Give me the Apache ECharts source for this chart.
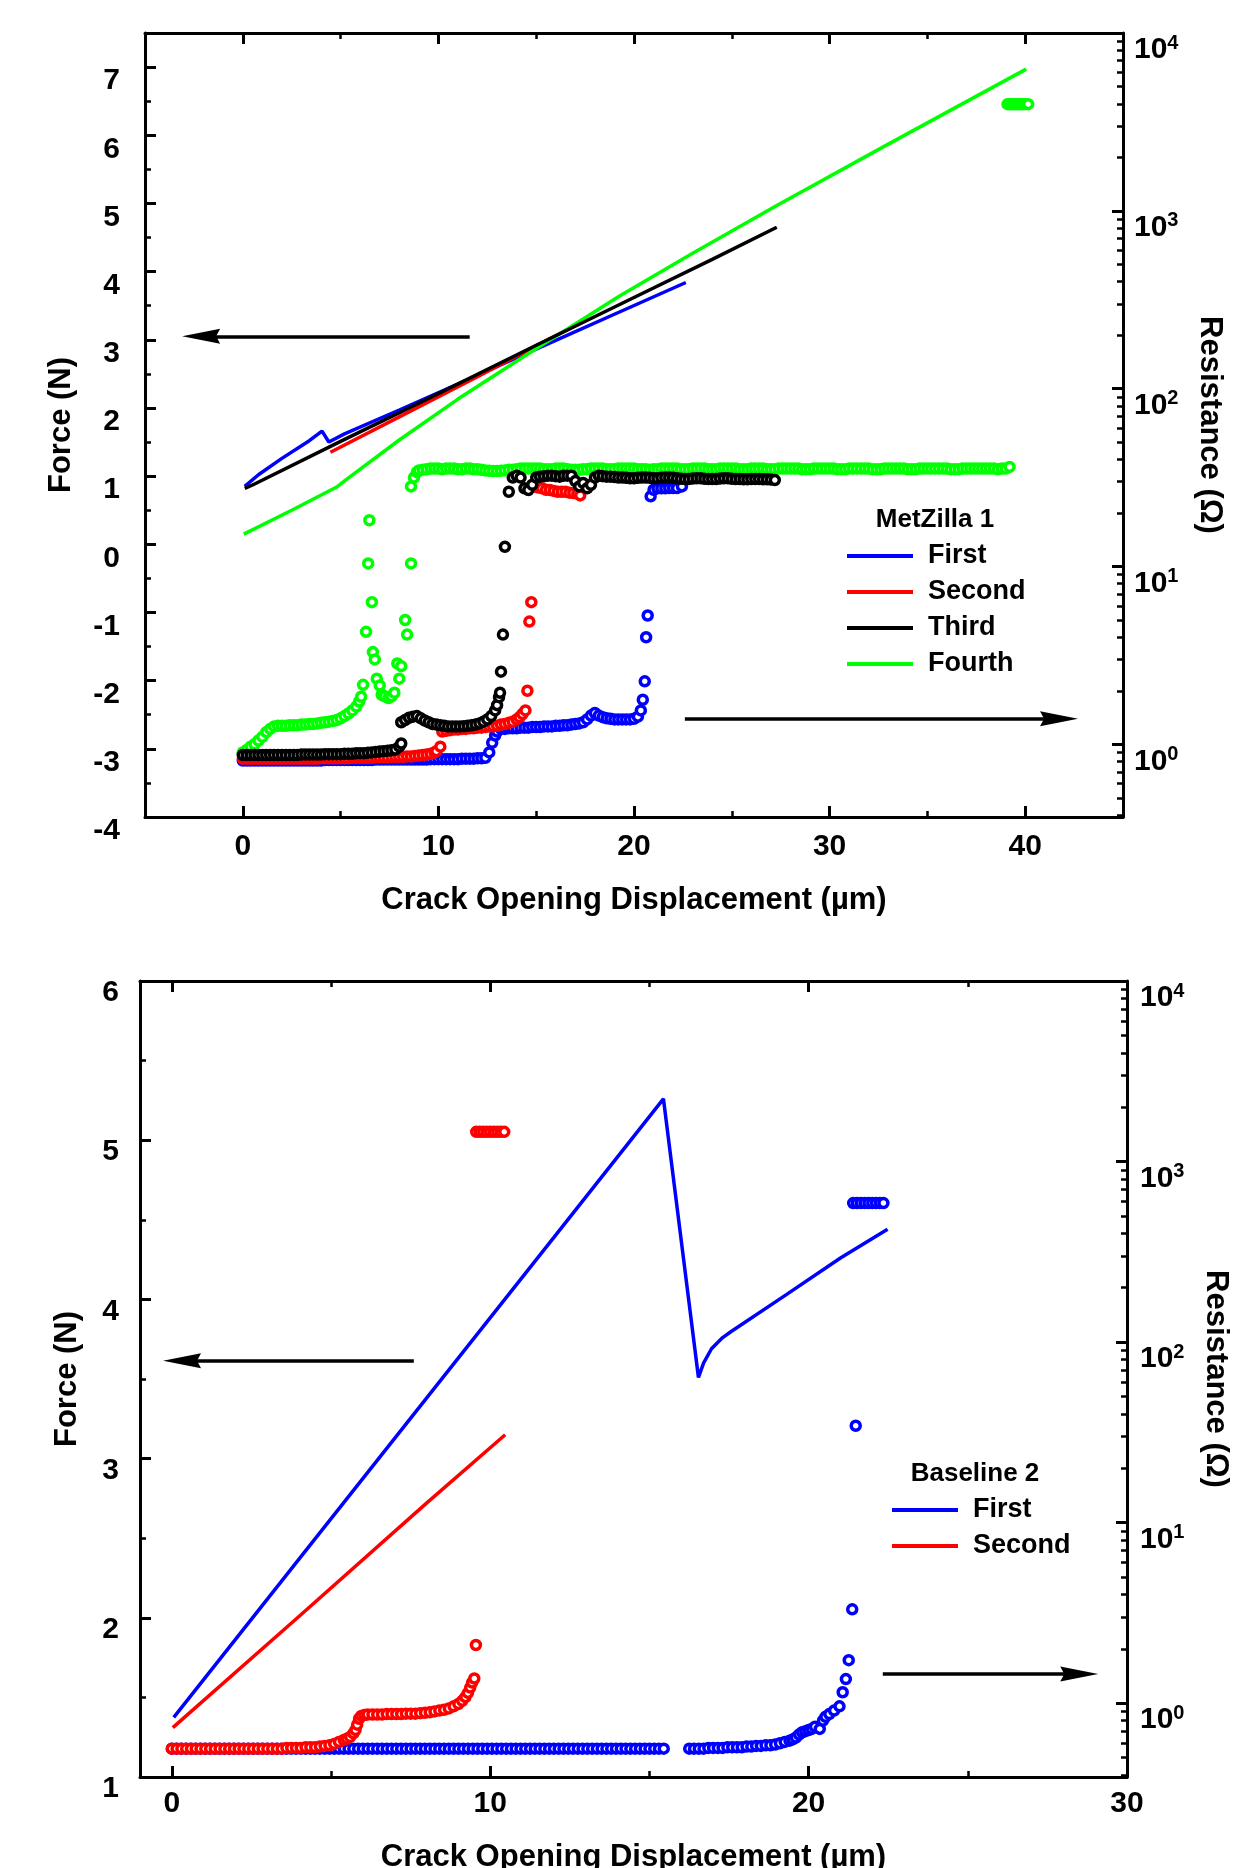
<!DOCTYPE html>
<html>
<head>
<meta charset="utf-8">
<title>Force and resistance vs crack opening displacement</title>
<script src="https://cdn.jsdelivr.net/npm/echarts@6/dist/echarts.min.js"></script>
<style>
  html, body { margin: 0; padding: 0; background: #fff; }
  #chart { width: 1242px; height: 1868px; }
</style>
</head>
<body>
<div id="chart"></div>
<script>
// ---- tick values ----
const codTicksTop = [0, 10, 20, 30, 40];
const codMinorTop = [5, 15, 25, 35];
const codTicksBot = [0, 10, 20, 30];
const codMinorBot = [5, 15, 25];
const forceTicksTop = [-4, -3, -2, -1, 0, 1, 2, 3, 4, 5, 6, 7];
const forceMinorTop = [-3.5, -2.5, -1.5, -0.5, 0.5, 1.5, 2.5, 3.5, 4.5, 5.5, 6.5];
const forceTicksBot = [1, 2, 3, 4, 5, 6];
const forceMinorBot = [1.5, 2.5, 3.5, 4.5, 5.5];
const resTicks = [1, 10, 100, 1000, 10000];
const resMinor = [0.4, 0.5, 0.6, 0.7, 0.8, 0.9, 2, 3, 4, 5, 6, 7, 8, 9,
  20, 30, 40, 50, 60, 70, 80, 90, 200, 300, 400, 500, 600, 700, 800, 900,
  2000, 3000, 4000, 5000, 6000, 7000, 8000, 9000];

// ---- MetZilla 1 : force (N) vs COD (um) ----
const firstForceTop = [[0.1, 0.85], [0.8, 1.02], [2.0, 1.26], [3.4, 1.52], [4.05, 1.66], [4.4, 1.5],
  [5.2, 1.62], [8.0, 1.97], [12.0, 2.48], [16.0, 2.99], [19.2, 3.4], [22.65, 3.84]];
const secondForceTop = [[4.48, 1.35], [8.0, 1.87], [12.0, 2.46], [15.0, 2.91], [17.35, 3.26]];
const thirdForceTop = [[0.1, 0.82], [0.5, 0.87], [5.0, 1.51], [10.0, 2.21], [15.0, 2.92], [20.0, 3.62],
  [24.0, 4.18], [27.3, 4.65]];
const fourthForceTop = [[0.05, 0.15], [2.5, 0.5], [4.8, 0.84], [5.2, 0.93], [8.0, 1.53], [11.0, 2.13],
  [14.45, 2.77], [19.24, 3.64], [23.0, 4.27], [27.3, 4.97], [33.0, 5.87], [40.05, 6.97]];

// ---- MetZilla 1 : resistance (ohm) vs COD (um) ----
const firstResTop = [
  [0, 0.81], [0.2, 0.81], [0.4, 0.81], [0.6, 0.81], [0.8, 0.81], [1.0, 0.81], [1.2, 0.81], [1.4, 0.81],
  [1.6, 0.81], [1.8, 0.81], [2.0, 0.81], [2.2, 0.81], [2.4, 0.81], [2.6, 0.81], [2.8, 0.81], [3.0, 0.81],
  [3.2, 0.81], [3.4, 0.81], [3.6, 0.81], [3.8, 0.81], [4.0, 0.81], [4.2, 0.815], [4.4, 0.815], [4.6, 0.815],
  [4.8, 0.815], [5.0, 0.815], [5.2, 0.815], [5.4, 0.815], [5.6, 0.815], [5.8, 0.815], [6.0, 0.815], [6.2, 0.815],
  [6.4, 0.815], [6.6, 0.815], [6.8, 0.82], [7.0, 0.82], [7.2, 0.82], [7.4, 0.82], [7.6, 0.82], [7.8, 0.82],
  [8.0, 0.82], [8.2, 0.82], [8.4, 0.82], [8.6, 0.82], [8.8, 0.82], [9.0, 0.82], [9.2, 0.82], [9.4, 0.82],
  [9.6, 0.825], [9.8, 0.825], [10.0, 0.825], [10.2, 0.825], [10.4, 0.825], [10.6, 0.825], [10.8, 0.825], [11.0, 0.825],
  [11.2, 0.83], [11.4, 0.83], [11.6, 0.83], [11.8, 0.83], [12.0, 0.835], [12.2, 0.835], [12.4, 0.84],
  [12.6, 0.9], [12.75, 1.02], [12.9, 1.12], [13.0, 1.18],
  [13.2, 1.22], [13.4, 1.22], [13.6, 1.23], [13.8, 1.23], [14.0, 1.23], [14.2, 1.24], [14.4, 1.24], [14.6, 1.24],
  [14.8, 1.25], [15.0, 1.25], [15.2, 1.25], [15.4, 1.26], [15.6, 1.26], [15.8, 1.26], [16.0, 1.27], [16.2, 1.27],
  [16.4, 1.28], [16.6, 1.28], [16.8, 1.29], [17.0, 1.3], [17.2, 1.31], [17.4, 1.33], [17.6, 1.38], [17.8, 1.45],
  [18.0, 1.5], [18.2, 1.45], [18.4, 1.42], [18.6, 1.4], [18.8, 1.39], [19.0, 1.38], [19.2, 1.38], [19.4, 1.38],
  [19.6, 1.38], [19.8, 1.38], [20.0, 1.39], [20.2, 1.43], [20.35, 1.55], [20.45, 1.78], [20.55, 2.26], [20.62, 4.0],
  [20.7, 5.3],
  [20.85, 24.8], [21.0, 27.0], [21.2, 27.5], [21.4, 27.5], [21.6, 27.5], [21.8, 27.6], [22.0, 27.6], [22.2, 27.6],
  [22.45, 28.2]
];
const secondResTop = [
  [0, 0.83], [0.2, 0.83], [0.4, 0.83], [0.6, 0.83], [0.8, 0.83], [1.0, 0.83], [1.2, 0.83], [1.4, 0.83],
  [1.6, 0.83], [1.8, 0.83], [2.0, 0.83], [2.2, 0.83], [2.4, 0.83], [2.6, 0.83], [2.8, 0.83], [3.0, 0.83],
  [3.2, 0.83], [3.4, 0.83], [3.6, 0.83], [3.8, 0.83], [4.0, 0.835], [4.2, 0.835], [4.4, 0.835], [4.6, 0.835],
  [4.8, 0.835], [5.0, 0.835], [5.2, 0.835], [5.4, 0.835], [5.6, 0.84], [5.8, 0.84], [6.0, 0.84], [6.2, 0.84],
  [6.4, 0.84], [6.6, 0.84], [6.8, 0.845], [7.0, 0.845], [7.2, 0.845], [7.4, 0.845], [7.6, 0.85], [7.8, 0.85],
  [8.0, 0.85], [8.2, 0.85], [8.4, 0.855], [8.6, 0.855], [8.8, 0.86], [9.0, 0.865], [9.2, 0.87], [9.4, 0.875],
  [9.6, 0.885], [9.8, 0.9], [9.9, 0.915], [10.1, 0.97],
  [10.2, 1.18], [10.4, 1.19], [10.6, 1.2], [10.8, 1.21], [11.0, 1.21], [11.2, 1.22], [11.4, 1.22], [11.6, 1.23],
  [11.8, 1.23], [12.0, 1.24], [12.2, 1.24], [12.4, 1.25], [12.6, 1.26], [12.8, 1.26], [13.0, 1.27], [13.2, 1.29],
  [13.4, 1.3], [13.6, 1.32], [13.8, 1.34], [14.0, 1.38], [14.15, 1.42], [14.3, 1.48], [14.45, 1.55],
  [14.55, 2.0], [14.65, 4.9], [14.75, 6.3],
  [14.9, 28.2], [15.1, 27.8], [15.3, 27.5], [15.5, 27.0], [15.7, 26.9], [15.9, 26.6], [16.1, 26.3], [16.3, 26.3],
  [16.5, 26.3], [16.7, 26.0], [16.9, 25.9], [17.1, 25.7], [17.25, 25.1]
];
const thirdResTop = [
  [0, 0.87], [0.2, 0.87], [0.4, 0.87], [0.6, 0.87], [0.8, 0.87], [1.0, 0.87], [1.2, 0.87], [1.4, 0.87],
  [1.6, 0.87], [1.8, 0.87], [2.0, 0.87], [2.2, 0.87], [2.4, 0.87], [2.6, 0.87], [2.8, 0.87], [3.0, 0.875],
  [3.2, 0.875], [3.4, 0.875], [3.6, 0.875], [3.8, 0.875], [4.0, 0.875], [4.2, 0.88], [4.4, 0.88], [4.6, 0.88],
  [4.8, 0.88], [5.0, 0.88], [5.2, 0.885], [5.4, 0.885], [5.6, 0.885], [5.8, 0.89], [6.0, 0.89], [6.2, 0.89],
  [6.4, 0.895], [6.6, 0.9], [6.8, 0.905], [7.0, 0.91], [7.2, 0.915], [7.4, 0.92], [7.6, 0.925], [7.8, 0.935],
  [8.0, 0.97], [8.1, 1.01],
  [8.1, 1.33], [8.3, 1.37], [8.5, 1.41], [8.7, 1.43], [8.9, 1.44], [9.1, 1.4], [9.3, 1.36], [9.5, 1.33],
  [9.7, 1.3], [9.9, 1.29], [10.1, 1.28], [10.3, 1.27], [10.5, 1.26], [10.7, 1.26], [10.9, 1.26], [11.1, 1.26],
  [11.3, 1.265], [11.5, 1.27], [11.7, 1.28], [11.9, 1.29], [12.1, 1.31], [12.3, 1.34], [12.5, 1.38], [12.7, 1.44],
  [12.9, 1.55], [13.0, 1.66], [13.1, 1.84], [13.15, 1.95], [13.2, 2.56], [13.3, 4.14], [13.4, 12.9],
  [13.6, 26.3], [13.8, 31.6], [14.0, 32.4], [14.2, 31.6], [14.4, 27.5], [14.6, 26.9], [14.8, 28.8], [15.0, 31.6],
  [15.2, 32.0], [15.4, 32.2], [15.6, 32.4], [15.8, 32.4], [16.0, 32.2], [16.2, 32.0], [16.4, 32.4], [16.6, 32.4],
  [16.8, 32.4], [17.0, 30.2], [17.2, 28.2], [17.4, 29.5], [17.6, 27.5], [17.8, 28.8], [18.0, 31.6], [18.2, 32.4],
  [18.4, 32.2], [18.6, 32.0], [18.8, 32.0], [19.0, 31.8], [19.2, 31.6], [19.4, 31.6], [19.6, 31.5], [19.8, 31.3],
  [20.0, 31.3], [20.2, 31.5], [20.4, 31.6], [20.6, 31.6], [20.8, 31.5], [21.0, 31.3], [21.2, 31.3], [21.4, 31.5],
  [21.6, 31.6], [21.8, 31.6], [22.0, 31.5], [22.2, 31.3], [22.4, 31.1], [22.6, 31.0], [22.8, 31.0], [23.0, 31.2],
  [23.2, 31.3], [23.4, 31.3], [23.6, 31.1], [23.8, 31.0], [24.0, 31.0], [24.2, 31.0], [24.4, 31.2], [24.6, 31.3],
  [24.8, 31.3], [25.0, 31.1], [25.2, 31.0], [25.4, 31.0], [25.6, 30.9], [25.8, 30.9], [26.0, 31.0], [26.2, 31.0],
  [26.4, 31.0], [26.6, 30.9], [26.8, 30.9], [27.0, 30.8], [27.2, 30.6]
];
const fourthResTop = [
  [0, 0.9], [0.2, 0.93], [0.4, 0.97], [0.6, 1.0], [0.8, 1.05], [1.0, 1.1], [1.2, 1.17], [1.4, 1.22],
  [1.6, 1.26], [1.8, 1.27], [2.0, 1.27], [2.2, 1.27], [2.4, 1.28], [2.6, 1.28], [2.8, 1.28], [3.0, 1.29],
  [3.2, 1.29], [3.4, 1.3], [3.6, 1.3], [3.8, 1.31], [4.0, 1.32], [4.2, 1.33], [4.4, 1.34], [4.6, 1.35],
  [4.8, 1.37], [5.0, 1.4], [5.2, 1.44], [5.4, 1.49], [5.6, 1.55], [5.8, 1.63], [5.95, 1.74], [6.05, 1.85],
  [6.15, 2.16],
  [6.3, 4.29], [6.41, 10.4], [6.47, 18.2], [6.6, 6.3], [6.65, 3.3], [6.75, 3.0], [6.85, 2.34], [7.0, 2.14],
  [7.1, 1.9], [7.25, 1.86], [7.45, 1.82], [7.6, 1.86], [7.75, 1.95], [7.9, 2.85], [8.0, 2.34], [8.1, 2.75],
  [8.3, 5.0], [8.4, 4.14], [8.6, 10.4],
  [8.6, 28.2], [8.75, 31.6], [8.9, 33.9],
  [9.0, 34.7], [9.2, 35.0], [9.4, 35.2], [9.6, 35.5], [9.8, 35.5], [10.0, 35.5], [10.2, 35.2], [10.4, 35.5], [10.6, 35.5], [10.8, 35.5],
  [11.0, 35.2], [11.2, 35.2], [11.4, 35.5], [11.6, 35.5], [11.8, 35.2], [12.0, 35.2], [12.2, 35.0], [12.4, 34.7], [12.6, 34.5], [12.8, 34.4],
  [13.0, 34.4], [13.2, 34.5], [13.4, 34.7], [13.6, 35.0], [13.8, 35.0], [14.0, 35.2], [14.2, 35.5], [14.4, 35.5], [14.6, 35.5], [14.8, 35.5],
  [15.0, 35.5], [15.2, 35.5], [15.4, 35.2], [15.6, 35.2], [15.8, 35.2], [16.0, 35.5], [16.2, 35.5], [16.4, 35.5], [16.6, 35.2], [16.8, 35.0],
  [17.0, 35.0], [17.2, 35.0], [17.4, 35.2], [17.6, 35.2], [17.8, 35.5], [18.0, 35.5], [18.2, 35.5], [18.4, 35.5], [18.6, 35.2], [18.8, 35.2],
  [19.0, 35.2], [19.2, 35.5], [19.4, 35.5], [19.6, 35.5], [19.8, 35.5], [20.0, 35.5], [20.2, 35.2], [20.4, 35.2], [20.6, 35.2], [20.8, 35.0],
  [21.0, 35.2], [21.2, 35.2], [21.4, 35.5], [21.6, 35.5], [21.8, 35.5], [22.0, 35.5], [22.2, 35.5], [22.4, 35.2], [22.6, 35.2], [22.8, 35.2],
  [23.0, 35.5], [23.2, 35.5], [23.4, 35.5], [23.6, 35.5], [23.8, 35.2], [24.0, 35.2], [24.2, 35.2], [24.4, 35.5], [24.6, 35.5], [24.8, 35.5],
  [25.0, 35.5], [25.2, 35.5], [25.4, 35.2], [25.6, 35.2], [25.8, 35.2], [26.0, 35.5], [26.2, 35.5], [26.4, 35.5], [26.6, 35.5], [26.8, 35.2],
  [27.0, 35.2], [27.2, 35.2], [27.4, 35.5], [27.6, 35.5], [27.8, 35.5], [28.0, 35.5], [28.2, 35.5], [28.4, 35.5], [28.6, 35.2], [28.8, 35.2],
  [29.0, 35.2], [29.2, 35.5], [29.4, 35.5], [29.6, 35.5], [29.8, 35.5], [30.0, 35.5], [30.2, 35.5], [30.4, 35.2], [30.6, 35.2], [30.8, 35.2],
  [31.0, 35.5], [31.2, 35.5], [31.4, 35.5], [31.6, 35.5], [31.8, 35.5], [32.0, 35.5], [32.2, 35.2], [32.4, 35.2], [32.6, 35.2], [32.8, 35.5],
  [33.0, 35.5], [33.2, 35.5], [33.4, 35.5], [33.6, 35.5], [33.8, 35.5], [34.0, 35.2], [34.2, 35.2], [34.4, 35.2], [34.6, 35.5], [34.8, 35.5],
  [35.0, 35.5], [35.2, 35.5], [35.4, 35.5], [35.6, 35.5], [35.8, 35.5], [36.0, 35.5], [36.2, 35.2], [36.4, 35.2], [36.6, 35.2], [36.8, 35.5],
  [37.0, 35.5], [37.2, 35.5], [37.4, 35.5], [37.6, 35.5], [37.8, 35.5], [38.0, 35.5], [38.2, 35.5], [38.4, 35.5], [38.6, 35.2], [38.8, 35.5],
  [39.0, 35.5], [39.2, 36.3],
  [39.1, 3980], [39.2, 3980], [39.3, 3980], [39.4, 3980], [39.5, 3980], [39.6, 3980], [39.7, 3980],
  [39.8, 3980], [39.9, 3980], [40.0, 3980], [40.15, 3980]
];

// ---- Baseline 2 : force (N) vs COD (um) ----
const firstForceBot = [[0.06, 1.375], [4.0, 2.37], [8.0, 3.38], [12.0, 4.39], [15.44, 5.26], [16.54, 3.51],
  [16.7, 3.6], [16.95, 3.69], [17.3, 3.76], [17.58, 3.8], [19.3, 4.03], [21.0, 4.26], [22.48, 4.44]];
const secondForceBot = [[0.03, 1.31], [4.0, 2.01], [8.0, 2.72], [10.47, 3.15]];

// ---- Baseline 2 : resistance (ohm) vs COD (um) ----
const firstResBot = [
  [0, 0.56], [0.15, 0.56], [0.3, 0.56], [0.45, 0.56], [0.6, 0.56], [0.75, 0.56], [0.9, 0.56], [1.05, 0.56], [1.2, 0.56], [1.35, 0.56],
  [1.5, 0.56], [1.65, 0.56], [1.8, 0.56], [1.95, 0.56], [2.1, 0.56], [2.25, 0.56], [2.4, 0.56], [2.55, 0.56], [2.7, 0.56], [2.85, 0.56],
  [3.0, 0.56], [3.15, 0.56], [3.3, 0.56], [3.45, 0.56], [3.6, 0.56], [3.75, 0.56], [3.9, 0.56], [4.05, 0.56], [4.2, 0.56], [4.35, 0.56],
  [4.5, 0.56], [4.65, 0.56], [4.8, 0.56], [4.95, 0.56], [5.1, 0.56], [5.25, 0.56], [5.4, 0.56], [5.55, 0.56], [5.7, 0.56], [5.85, 0.56],
  [6.0, 0.56], [6.15, 0.56], [6.3, 0.56], [6.45, 0.56], [6.6, 0.56], [6.75, 0.56], [6.9, 0.56], [7.05, 0.56], [7.2, 0.56], [7.35, 0.56],
  [7.5, 0.56], [7.65, 0.56], [7.8, 0.56], [7.95, 0.56], [8.1, 0.56], [8.25, 0.56], [8.4, 0.56], [8.55, 0.56], [8.7, 0.56], [8.85, 0.56],
  [9.0, 0.56], [9.15, 0.56], [9.3, 0.56], [9.45, 0.56], [9.6, 0.56], [9.75, 0.56], [9.9, 0.56], [10.05, 0.56], [10.2, 0.56], [10.35, 0.56],
  [10.5, 0.56], [10.65, 0.56], [10.8, 0.56], [10.95, 0.56], [11.1, 0.56], [11.25, 0.56], [11.4, 0.56], [11.55, 0.56], [11.7, 0.56], [11.85, 0.56],
  [12.0, 0.56], [12.15, 0.56], [12.3, 0.56], [12.45, 0.56], [12.6, 0.56], [12.75, 0.56], [12.9, 0.56], [13.05, 0.56], [13.2, 0.56], [13.35, 0.56],
  [13.5, 0.56], [13.65, 0.56], [13.8, 0.56], [13.95, 0.56], [14.1, 0.56], [14.25, 0.56], [14.4, 0.56], [14.55, 0.56], [14.7, 0.56], [14.85, 0.56],
  [15.0, 0.56], [15.15, 0.56], [15.3, 0.56], [15.45, 0.56],
  [16.25, 0.56], [16.4, 0.56], [16.55, 0.56], [16.7, 0.56], [16.85, 0.565], [17.0, 0.565], [17.15, 0.565], [17.3, 0.565], [17.45, 0.57], [17.6, 0.57],
  [17.75, 0.57], [17.9, 0.57], [18.05, 0.575], [18.2, 0.575], [18.35, 0.58], [18.5, 0.58], [18.65, 0.585], [18.8, 0.585], [18.95, 0.59], [19.1, 0.6],
  [19.25, 0.61], [19.4, 0.62], [19.5, 0.63], [19.6, 0.645], [19.7, 0.67], [19.8, 0.69], [19.9, 0.7], [20.0, 0.71], [20.1, 0.72], [20.2, 0.74],
  [20.35, 0.72], [20.45, 0.8], [20.53, 0.84], [20.65, 0.87], [20.8, 0.91], [20.97, 0.96], [21.07, 1.15], [21.17, 1.36], [21.26, 1.73], [21.37, 3.31],
  [21.48, 34.4],
  [21.4, 589], [21.52, 589], [21.64, 589], [21.76, 589], [21.88, 589], [22.0, 589], [22.12, 589], [22.24, 589], [22.35, 589]
];
const secondResBot = [
  [0, 0.56], [0.15, 0.56], [0.3, 0.56], [0.45, 0.56], [0.6, 0.56], [0.75, 0.56], [0.9, 0.56], [1.05, 0.56], [1.2, 0.56], [1.35, 0.56],
  [1.5, 0.56], [1.65, 0.56], [1.8, 0.56], [1.95, 0.56], [2.1, 0.56], [2.25, 0.56], [2.4, 0.56], [2.55, 0.56], [2.7, 0.56], [2.85, 0.56],
  [3.0, 0.56], [3.15, 0.56], [3.3, 0.56], [3.45, 0.56], [3.6, 0.565], [3.75, 0.565], [3.9, 0.565], [4.05, 0.565], [4.2, 0.57], [4.35, 0.57],
  [4.5, 0.57], [4.65, 0.575], [4.8, 0.58], [4.95, 0.585], [5.1, 0.595], [5.25, 0.61], [5.4, 0.625], [5.5, 0.635], [5.6, 0.65], [5.7, 0.68],
  [5.77, 0.71], [5.82, 0.76], [5.88, 0.82], [5.95, 0.85], [6.05, 0.86],
  [6.15, 0.865], [6.3, 0.865], [6.45, 0.865], [6.6, 0.865], [6.75, 0.87], [6.9, 0.87], [7.05, 0.87], [7.2, 0.87], [7.35, 0.875], [7.5, 0.875],
  [7.65, 0.875], [7.8, 0.88], [7.95, 0.885], [8.1, 0.89], [8.25, 0.9], [8.4, 0.91], [8.55, 0.92], [8.7, 0.935], [8.85, 0.96], [9.0, 0.99],
  [9.12, 1.03], [9.22, 1.08], [9.3, 1.14], [9.37, 1.22], [9.43, 1.3], [9.5, 1.37], [9.55, 2.1],
  [9.56, 1460], [9.67, 1460], [9.78, 1460], [9.89, 1460], [10.0, 1460], [10.11, 1460], [10.22, 1460], [10.33, 1460], [10.44, 1460]
];

// arrows telling which axis a curve belongs to (tail -> arrowhead centre, in data units)
const arrowsTop = [[[11.6, 3.05], [-2.13, 3.05]], [[22.6, -2.56], [41.73, -2.56]]];
const arrowsBot = [[[7.6, 3.615], [0.32, 3.615]], [[22.33, 1.647], [28.5, 1.647]]];
// arrowhead: narrow triangle with a shallow notch, tip pointing up
const ARROW_HEAD = 'path://M7,0 L14,38 L7,34 L0,38 Z';

const FONT = "'Liberation Sans', Arial, sans-serif";
const BLUE = '#0000ff', RED = '#ff0000', BLACK = '#000000', GREEN = '#00ff00';

const chart = echarts.init(document.getElementById('chart'), null, { renderer: 'canvas' });

function txt(size) {
  return { fontFamily: FONT, fontWeight: 'bold', fontSize: size, color: '#000' };
}

const boxLine = { show: true, onZero: false, lineStyle: { color: '#000', width: 3 } };
const noLine = { show: false, onZero: false };

// one axis of a grid; main ones carry line, labels and long ticks, overlays only the short ticks
function axis(grid, pos, type, min, max, ticks, opts) {
  return Object.assign({
    type: type, gridIndex: grid, position: pos, min: min, max: max,
    axisLine: noLine,
    axisTick: { show: true, inside: true, length: 11, customValues: ticks, lineStyle: { color: '#000', width: 3 } },
    axisLabel: { show: false },
    splitLine: { show: false }
  }, opts || {});
}

function minorTick(ticks) {
  return { show: true, inside: true, length: 6, customValues: ticks, lineStyle: { color: '#000', width: 2.5 } };
}

// label for 10^n on the resistance axis
function powLabel(v) {
  return '{b|10}{s|' + Math.round(Math.log10(v)) + '}';
}
const powRich = {
  b: Object.assign(txt(30), { lineHeight: 34 }),
  s: Object.assign(txt(20), { lineHeight: 20, verticalAlign: 'top' })
};

function resAxis(grid, gap, margin) {
  return axis(grid, 'right', 'log', 0.39, 10000, resTicks, {
    logBase: 10,
    axisLine: boxLine,
    axisLabel: { show: true, margin: margin, customValues: resTicks, formatter: powLabel, rich: powRich,
      verticalAlign: 'top' },
    name: 'Resistance (\u03a9)', nameLocation: 'middle', nameGap: gap, nameRotate: -90,
    nameTextStyle: txt(31)
  });
}

function arrowLines(list) {
  return {
    silent: true, animation: false,
    symbol: ['none', ARROW_HEAD], symbolSize: 20,
    lineStyle: { color: '#000', width: 3.5, type: 'solid' },
    itemStyle: { color: '#000' },
    label: { show: false },
    emphasis: { disabled: true },
    data: list.map(a => [{ coord: a[0] }, { coord: a[1], symbol: ARROW_HEAD, symbolSize: [15, 38] }])
  };
}

// hollow circles: white fill, coloured ring
function resSeries(name, x, y, color, data) {
  return {
    type: 'scatter', name: name, xAxisIndex: x, yAxisIndex: y, data: data,
    symbol: 'circle', symbolSize: 9,
    itemStyle: { color: '#fff', borderColor: color, borderWidth: 3.5, opacity: 1 },
    silent: true
  };
}

function forceSeries(name, x, y, color, data, extra) {
  return Object.assign({
    type: 'line', name: name, xAxisIndex: x, yAxisIndex: y, data: data,
    showSymbol: false, symbol: 'none',
    lineStyle: { color: color, width: 3.5 }, itemStyle: { color: color },
    silent: true
  }, extra || {});
}

function legend(left, top, names) {
  return {
    orient: 'vertical', left: left, top: top, padding: 0, itemGap: 4,
    itemWidth: 66, itemHeight: 4, selectedMode: false,
    data: names.map(n => ({ name: n, icon: 'rect' })),
    textStyle: Object.assign(txt(27), { lineHeight: 32, padding: [0, 0, 0, 10] })
  };
}

function legendTitle(text, x, y) {
  return { type: 'text', x: x, y: y,
    style: { text: text, fill: '#000', align: 'center', verticalAlign: 'middle', font: 'bold 26px ' + FONT } };
}

chart.setOption({
  animation: false,
  backgroundColor: '#fff',
  // fixed plot boxes; the lower axis title is allowed to run off the page as in the original
  grid: [
    { left: 145, top: 33, width: 978, height: 784, containLabel: false, outerBoundsMode: 'none' },
    { left: 140, top: 981, width: 987, height: 796, containLabel: false, outerBoundsMode: 'none' }
  ],
  xAxis: [
    // top chart
    axis(0, 'bottom', 'value', -5, 45, codTicksTop, {
      axisLine: boxLine,
      axisLabel: Object.assign(txt(30), { show: true, margin: 14, lineHeight: 32, customValues: codTicksTop }),
      name: 'Crack Opening Displacement (\u00b5m)', nameLocation: 'middle', nameGap: 68, nameTextStyle: txt(31)
    }),
    axis(0, 'bottom', 'value', -5, 45, codMinorTop, { axisTick: minorTick(codMinorTop) }),
    axis(0, 'top', 'value', -5, 45, codTicksTop, { axisLine: boxLine }),
    axis(0, 'top', 'value', -5, 45, codMinorTop, { axisTick: minorTick(codMinorTop) }),
    // bottom chart
    axis(1, 'bottom', 'value', -1, 30, codTicksBot, {
      axisLine: boxLine,
      axisLabel: Object.assign(txt(30), { show: true, margin: 11, lineHeight: 32, customValues: codTicksBot }),
      name: 'Crack Opening Displacement (\u00b5m)', nameLocation: 'middle', nameGap: 65, nameTextStyle: txt(31)
    }),
    axis(1, 'bottom', 'value', -1, 30, codMinorBot, { axisTick: minorTick(codMinorBot) }),
    axis(1, 'top', 'value', -1, 30, codTicksBot, { axisLine: boxLine }),
    axis(1, 'top', 'value', -1, 30, codMinorBot, { axisTick: minorTick(codMinorBot) })
  ],
  yAxis: [
    // top chart
    axis(0, 'left', 'value', -4, 7.5, forceTicksTop, {
      axisLine: boxLine,
      axisLabel: Object.assign(txt(30), { show: true, margin: 25, customValues: forceTicksTop,
        verticalAlign: 'top', lineHeight: 28 }),
      name: 'Force (N)', nameLocation: 'middle', nameGap: 68, nameRotate: 90, nameTextStyle: txt(31)
    }),
    axis(0, 'left', 'value', -4, 7.5, forceMinorTop, { axisTick: minorTick(forceMinorTop) }),
    resAxis(0, 71, 11),
    axis(0, 'right', 'log', 0.39, 10000, resMinor, { logBase: 10, axisTick: minorTick(resMinor) }),
    // bottom chart
    axis(1, 'left', 'value', 1, 6, forceTicksBot, {
      axisLine: boxLine,
      axisLabel: Object.assign(txt(30), { show: true, margin: 21, customValues: forceTicksBot,
        verticalAlign: 'top', lineHeight: 24 }),
      name: 'Force (N)', nameLocation: 'middle', nameGap: 57, nameRotate: 90, nameTextStyle: txt(31)
    }),
    axis(1, 'left', 'value', 1, 6, forceMinorBot, { axisTick: minorTick(forceMinorBot) }),
    resAxis(1, 73, 13),
    axis(1, 'right', 'log', 0.39, 10000, resMinor, { logBase: 10, axisTick: minorTick(resMinor) })
  ],
  legend: [
    legend(847, 540, ['First', 'Second', 'Third', 'Fourth']),
    legend(892, 1494, ['First', 'Second'])
  ],
  graphic: [
    legendTitle('MetZilla 1', 935, 520),
    legendTitle('Baseline 2', 975, 1474)
  ],
  series: [
    // top chart, resistance (right axis)
    resSeries('First R', 0, 2, BLUE, firstResTop),
    resSeries('Second R', 0, 2, RED, secondResTop),
    resSeries('Fourth R', 0, 2, GREEN, fourthResTop),
    resSeries('Third R', 0, 2, BLACK, thirdResTop),
    // top chart, force (left axis)
    forceSeries('First', 0, 0, BLUE, firstForceTop, { markLine: arrowLines(arrowsTop) }),
    forceSeries('Second', 0, 0, RED, secondForceTop),
    forceSeries('Fourth', 0, 0, GREEN, fourthForceTop),
    forceSeries('Third', 0, 0, BLACK, thirdForceTop),
    // bottom chart
    resSeries('First R', 4, 6, BLUE, firstResBot),
    resSeries('Second R', 4, 6, RED, secondResBot),
    forceSeries('First', 4, 4, BLUE, firstForceBot, { markLine: arrowLines(arrowsBot) }),
    forceSeries('Second', 4, 4, RED, secondForceBot)
  ]
});
</script>
</body>
</html>
